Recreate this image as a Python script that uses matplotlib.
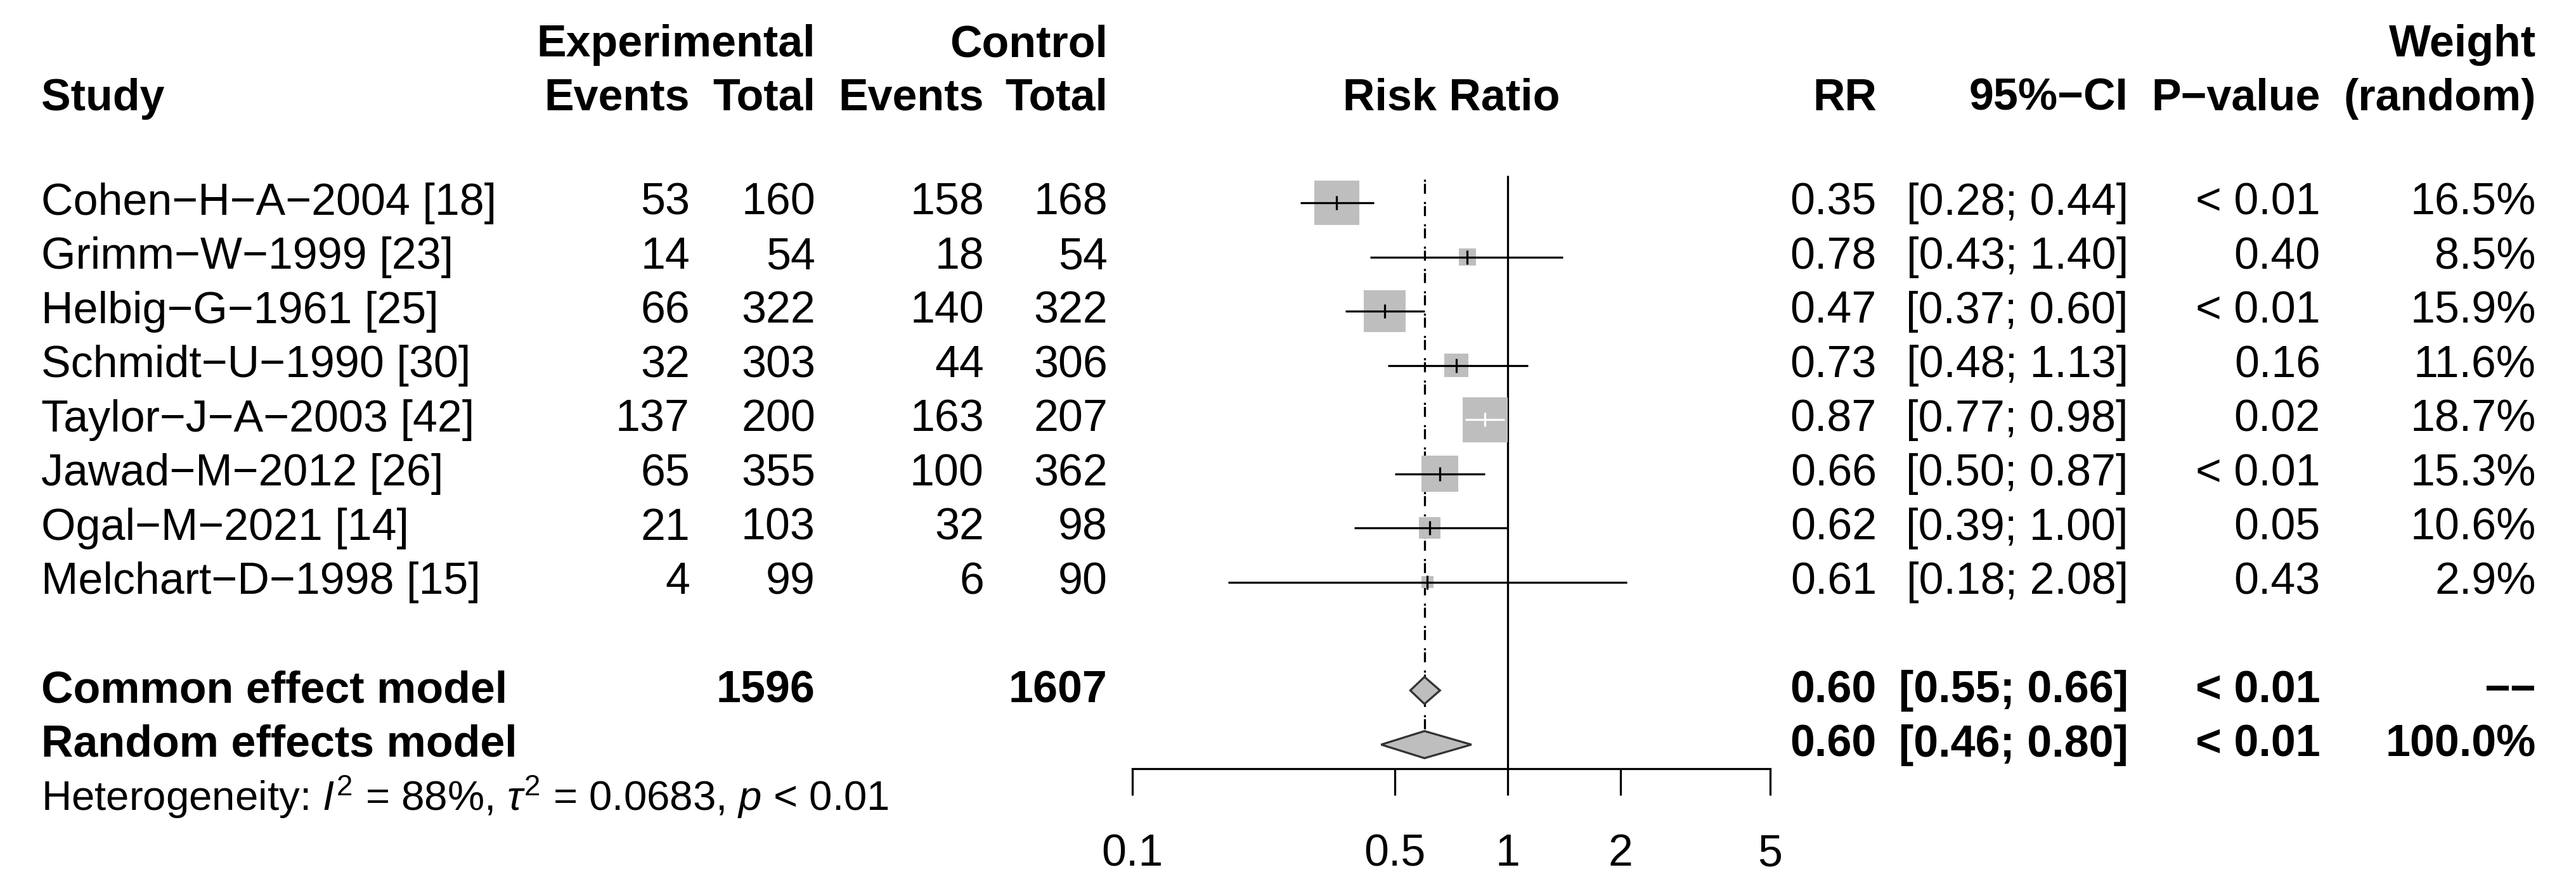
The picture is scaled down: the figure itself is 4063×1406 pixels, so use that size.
import numpy as np
import matplotlib
matplotlib.use("Agg")
import matplotlib.pyplot as plt
from matplotlib.patches import Polygon
from matplotlib.ticker import NullLocator, FixedLocator, FixedFormatter

# ---------------- data ----------------
studies = ["Cohen-H-A-2004 [18]", "Grimm-W-1999 [23]", "Helbig-G-1961 [25]",
           "Schmidt-U-1990 [30]", "Taylor-J-A-2003 [42]", "Jawad-M-2012 [26]",
           "Ogal-M-2021 [14]", "Melchart-D-1998 [15]"]
exp_events = [53, 14, 66, 32, 137, 65, 21, 4]
exp_total = [160, 54, 322, 303, 200, 355, 103, 99]
ctl_events = [158, 18, 140, 44, 163, 100, 32, 6]
ctl_total = [168, 54, 322, 306, 207, 362, 98, 90]
rr = [0.35, 0.78, 0.47, 0.73, 0.87, 0.66, 0.62, 0.61]
ci_low = [0.28, 0.43, 0.37, 0.48, 0.77, 0.50, 0.39, 0.18]
ci_high = [0.44, 1.40, 0.60, 1.13, 0.98, 0.87, 1.00, 2.08]
p_values = ["< 0.01", "0.40", "< 0.01", "0.16", "0.02", "< 0.01", "0.05", "0.43"]
weights = [16.5, 8.5, 15.9, 11.6, 18.7, 15.3, 10.6, 2.9]

models = ["Common effect model", "Random effects model"]
model_rr = [0.60, 0.60]
model_low = [0.55, 0.46]
model_high = [0.66, 0.80]
model_p = ["< 0.01", "< 0.01"]
model_weight = ["--", "100.0%"]
total_exp = 1596
total_ctl = 1607

het_text = r"Heterogeneity: $I^2$ = 88%, $\tau^2$ = 0.0683, $p$ < 0.01"
xticks = [0.1, 0.5, 1, 2, 5]
xtick_labels = ["0.1", "0.5", "1", "2", "5"]

# ---------------- style ----------------
plt.rcParams['font.family'] = ['Liberation Sans', 'DejaVu Sans']
plt.rcParams['mathtext.fontset'] = 'custom'
plt.rcParams['mathtext.rm'] = 'Liberation Sans'
plt.rcParams['mathtext.it'] = 'Liberation Sans:italic'
plt.rcParams['mathtext.bf'] = 'Liberation Sans:bold'
plt.rcParams['lines.scale_dashes'] = False

W, H, DPI = 4063, 1406, 300
FS = 16.8
ROW0, ROWH = 320.0, 85.5
GRAY = '#BEBEBE'
LW = 0.78
MINUS = "\u2212"


def m(s):
    return s.replace("-", MINUS)


fig = plt.figure(figsize=(W / DPI, H / DPI), dpi=DPI)
ytop = (0 - ROW0) / ROWH
ybot = (H - ROW0) / ROWH

ax = fig.add_axes([0, 0, 1, 1])
ax.set_xlim(0, W)
ax.set_ylim(ybot, ytop)
ax.axis('off')

X0, X1 = 1786, 2792
axf = fig.add_axes([X0 / W, 0, (X1 - X0) / W, 1])
axf.set_xscale('log')
axf.set_xlim(0.1, 5)
axf.set_ylim(ybot, ytop)
axf.patch.set_visible(False)
for s in ['left', 'right', 'top']:
    axf.spines[s].set_visible(False)
AXIS_ROW = (1213 - ROW0) / ROWH
axf.spines['bottom'].set_position(('data', AXIS_ROW))
axf.spines['bottom'].set_linewidth(LW)
axf.xaxis.set_major_locator(FixedLocator(xticks))
axf.xaxis.set_major_formatter(FixedFormatter(xtick_labels))
axf.xaxis.set_minor_locator(NullLocator())
axf.tick_params(axis='x', which='major', length=10, width=LW, pad=14.5, labelsize=FS)
axf.yaxis.set_visible(False)

PXDEC = (X1 - X0) / np.log10(5 / 0.1)
rows = np.arange(len(studies))

# reference lines
axf.vlines(1, (277 - ROW0) / ROWH, AXIS_ROW, colors='black', lw=LW, zorder=1)
axf.plot([model_rr[1], model_rr[1]], [(283 - ROW0) / ROWH, 10 - 0.25],
         color='black', lw=LW, ls=(0, (0.8, 0.75, 3.8, 3.1)), zorder=1)

# squares (size from inverse-variance weight)
se = (np.log(ci_high) - np.log(ci_low)) / (2 * 1.96)
side_px = np.clip(8.17 / se, 19, 71)
axf.scatter(rr, rows, s=(side_px * 72 / DPI) ** 2, marker='s', c=GRAY,
            linewidths=0, zorder=2)

ci_px = (np.log10(ci_high) - np.log10(ci_low)) * PXDEC
for i in rows:
    col = 'white' if ci_px[i] < side_px[i] else 'black'
    axf.hlines(i, ci_low[i], ci_high[i], colors=col, lw=LW, zorder=3)
    axf.plot([rr[i]], [i], marker='|', ms=23 * 72 / DPI, mew=LW, color=col,
             zorder=3)

# diamonds
for k in range(2):
    r = 9 + k
    poly = Polygon([(model_low[k], r), (model_rr[k], r - 0.25),
                    (model_high[k], r), (model_rr[k], r + 0.25)],
                   closed=True, fc=GRAY, ec='#333333', lw=LW, zorder=4)
    axf.add_patch(poly)

# ---------------- text ----------------
BASE = 0.222
H1 = (89 - ROW0) / ROWH
H2 = (174 - ROW0) / ROWH
XS = 65
XEE, XET, XCE, XCT = 1088, 1286, 1552, 1747
XRR, XCI, XP, XW = 2960, 3357, 3660, 4000
XRISK = (X0 + X1) / 2


def t(x, y, s, ha='right', bold=False, size=FS, **kw):
    ax.text(x, y, s, ha=ha, va='baseline', fontsize=size,
            fontweight='bold' if bold else 'normal', **kw)


t(XET, H1, "Experimental", bold=True)
t(XCT, H1, "Control", bold=True)
t(XW, H1, "Weight", bold=True)
t(XS, H2, "Study", ha='left', bold=True)
t(XEE, H2, "Events", bold=True)
t(XET, H2, "Total", bold=True)
t(XCE, H2, "Events", bold=True)
t(XCT, H2, "Total", bold=True)
t(XRISK, H2, "Risk Ratio", ha='center', bold=True)
t(XRR, H2, "RR", bold=True)
t(XCI, H2, m("95%-CI"), bold=True)
t(XP, H2, m("P-value"), bold=True)
t(XW, H2, "(random)", bold=True)

for i in rows:
    y = i + BASE
    t(XS, y, m(studies[i]), ha='left')
    t(XEE, y, str(exp_events[i]))
    t(XET, y, str(exp_total[i]))
    t(XCE, y, str(ctl_events[i]))
    t(XCT, y, str(ctl_total[i]))
    t(XRR, y, f"{rr[i]:.2f}")
    t(XCI, y, f"[{ci_low[i]:.2f}; {ci_high[i]:.2f}]")
    t(XP, y, p_values[i])
    t(XW, y, f"{weights[i]:.1f}%")

for k in range(2):
    y = 9 + k + BASE
    t(XS, y, models[k], ha='left', bold=True)
    if k == 0:
        t(XET, y, str(total_exp), bold=True)
        t(XCT, y, str(total_ctl), bold=True)
    t(XRR, y, f"{model_rr[k]:.2f}", bold=True)
    t(XCI, y, f"[{model_low[k]:.2f}; {model_high[k]:.2f}]", bold=True)
    t(XP, y, model_p[k], bold=True)
    t(XW, y, m(model_weight[k]), bold=True)

t(XS, 11 + BASE, het_text, ha='left', size=15.7)

fig.savefig("out.png", dpi=DPI, facecolor='white')
